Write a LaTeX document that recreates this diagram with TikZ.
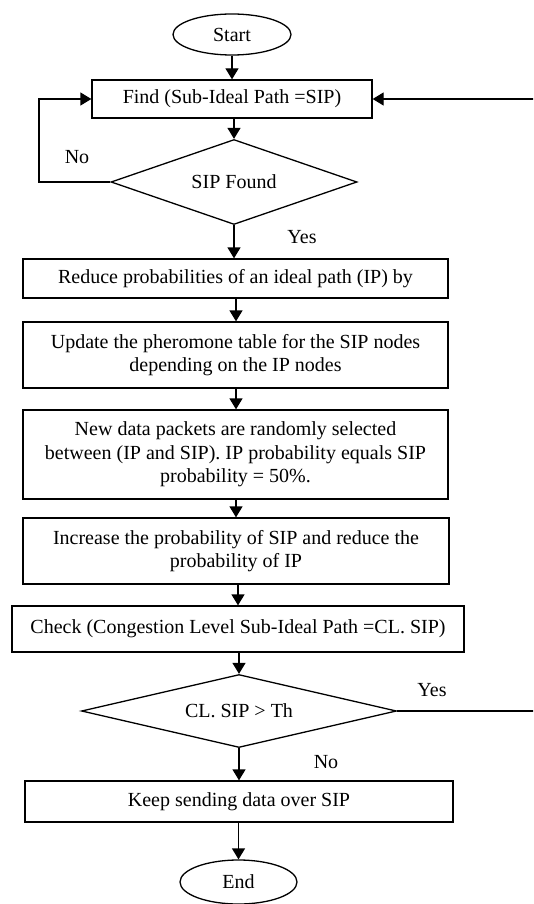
\documentclass[tikz,border=0pt]{standalone}
\usepackage{fontspec}
\setmainfont{Liberation Serif}
\usetikzlibrary{shapes.geometric,arrows.meta}
\begin{document}
\begin{tikzpicture}[x=1pt,y=-1pt,
  every node/.style={font=\fontsize{20}{23.7}\selectfont},
  stepbox/.style={draw,line width=1.3pt,inner sep=0pt,align=center},
  term/.style={draw,ellipse,line width=1.3pt,inner sep=0pt},
  decide/.style={draw,diamond,line width=1.3pt,inner sep=0pt},
  conn/.style={line width=1.3pt,-{Triangle[length=11pt,width=13pt]}},
  lbl/.style={inner sep=0pt}]
\useasboundingbox (0,0) rectangle (533,904);
\clip (0,0) rectangle (533,904);
\node[term,minimum width=118,minimum height=41] (start) at (232,34.5) {Start};
\node[stepbox,minimum width=280,minimum height=38] (find) at (232,99) {Find (Sub-Ideal Path =SIP)};
\node[decide,minimum width=246,minimum height=85,aspect=2.9] (sip) at (234,182) {SIP Found};
\node[stepbox,minimum width=425,minimum height=39] (reduce) at (235.5,278.5) {Reduce probabilities of an ideal path (IP) by};
\node[stepbox,minimum width=425,minimum height=66] (update) at (235.5,355) {Update the pheromone table for the SIP nodes\\depending on the IP nodes};
\node[stepbox,minimum width=425,minimum height=89] (new) at (235.5,454.5) {New data packets are randomly selected\\between (IP and SIP). IP probability equals SIP\\probability = 50\%.};
\node[stepbox,minimum width=426,minimum height=66] (incr) at (236,551) {Increase the probability of SIP and reduce the\\probability of IP};
\node[stepbox,minimum width=452,minimum height=46] (check) at (238,629) {Check (Congestion Level Sub-Ideal Path =CL. SIP)};
\node[decide,minimum width=315,minimum height=73,aspect=4.3] (cl) at (239,711) {CL. SIP > Th};
\node[stepbox,minimum width=428,minimum height=41] (keep) at (239,801.5) {Keep sending data over SIP};
\node[term,minimum width=117,minimum height=44] (end) at (238.5,882) {End};
\node[lbl] (no1) at (77,157) {No};
\node[lbl] (yes1) at (302,237) {Yes};
\node[lbl] (yes2) at (432,690) {Yes};
\node[lbl] (no2) at (326,762) {No};
\draw[conn] (start.south-|232,0) -- (find.north-|232,0);
\draw[conn] (find.south-|234,0) -- (sip.north-|234,0);
\draw[conn] (sip.south-|234,0) -- (reduce.north-|234,0);
\draw[conn] (reduce.south-|236,0) -- (update.north-|236,0);
\draw[conn] (update.south-|236,0) -- (new.north-|236,0);
\draw[conn] (new.south-|236,0) -- (incr.north-|236,0);
\draw[conn] (incr.south-|238,0) -- (check.north-|238,0);
\draw[conn] (check.south-|239,0) -- (cl.north-|239,0);
\draw[conn] (cl.south-|239,0) -- (keep.north-|239,0);
\draw[conn] (keep.south-|238.5,0) -- (end.north-|238.5,0);
\draw[conn] (sip.west) -- (39,182) |- (find.west);
\draw[conn] (cl.east) -- (548,711) |- (find.east);
\end{tikzpicture}
\end{document}
